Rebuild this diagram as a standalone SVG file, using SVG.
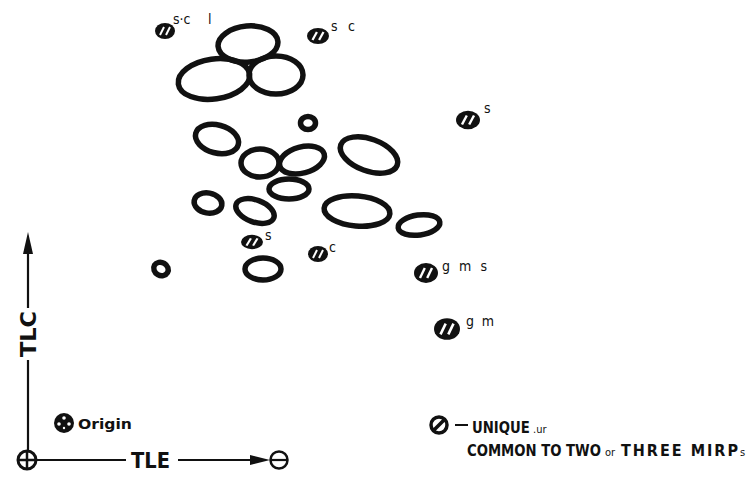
<svg xmlns="http://www.w3.org/2000/svg" xmlns:xlink="http://www.w3.org/1999/xlink" width="755" height="481" viewBox="0 0 755 481">
<style>
.ring{fill:none;stroke:#111;stroke-width:5.5}
.lbl{font-family:"DejaVu Sans Condensed","DejaVu Sans",sans-serif;font-size:14px;fill:#111}
.big{font-family:"DejaVu Sans Condensed","DejaVu Sans",sans-serif;font-weight:bold;fill:#111}
.sm{font-family:"DejaVu Sans Condensed","DejaVu Sans",sans-serif;font-size:11px;fill:#111}
.ax{stroke:#111;stroke-width:2.2;fill:none}
</style>
<defs>
<g id="hatch">
<ellipse cx="0" cy="0" rx="10" ry="8" fill="#111"/>
<line x1="-5" y1="4" x2="-1" y2="-4" stroke="#fff" stroke-width="2"/>
<line x1="1" y1="4" x2="5" y2="-4" stroke="#fff" stroke-width="2"/>
</g>
</defs>
<rect width="755" height="481" fill="#fff"/>

<g id="connectors">
<line class="ax" x1="28" y1="450" x2="28" y2="360"/>
<line class="ax" x1="28" y1="308" x2="28" y2="250"/>
<path d="M28,232 L33,254 L23,254 Z" fill="#111"/>
<line class="ax" x1="37" y1="460" x2="126" y2="460"/>
<line class="ax" x1="178" y1="460" x2="256" y2="460"/>
<path d="M270,460 L250,455 L250,465 Z" fill="#111"/>
</g>

<g id="axis-labels">
<text class="big" transform="translate(36,334) rotate(-90)" font-size="22" text-anchor="middle" textLength="46" lengthAdjust="spacingAndGlyphs">TLC</text>
<text class="big" x="131" y="468" font-size="22" textLength="39" lengthAdjust="spacingAndGlyphs">TLE</text>
</g>

<g id="origin">
<circle cx="27" cy="460" r="9" fill="none" stroke="#111" stroke-width="3"/>
<line x1="18" y1="460" x2="36" y2="460" stroke="#111" stroke-width="2.5"/>
<line x1="27" y1="451" x2="27" y2="469" stroke="#111" stroke-width="2.5"/>
</g>
<g id="tle-end">
<circle cx="279" cy="460" r="8.5" fill="none" stroke="#111" stroke-width="2.5"/>
<line x1="270" y1="460" x2="288" y2="460" stroke="#111" stroke-width="2.2"/>
</g>

<g id="origin-legend">
<circle cx="64" cy="423" r="10" fill="#111"/>
<circle cx="64" cy="418" r="1.8" fill="#fff"/>
<circle cx="59" cy="424" r="1.8" fill="#fff"/>
<circle cx="69" cy="424" r="1.8" fill="#fff"/>
<circle cx="64" cy="428" r="1.2" fill="#fff"/>
<text class="big" x="78" y="429" font-size="14" textLength="54" lengthAdjust="spacingAndGlyphs">Origin</text>
</g>

<g id="mirp-legend">
<circle cx="439" cy="425" r="8" fill="none" stroke="#111" stroke-width="3.5"/>
<line x1="433" y1="431" x2="445" y2="419" stroke="#111" stroke-width="3.5"/>
<line x1="455" y1="425" x2="468" y2="425" stroke="#111" stroke-width="2"/>
<text class="big" transform="translate(472,433) scale(0.92,1)" font-size="16">UNIQUE</text>
<text class="sm" x="533" y="433">.ur</text>
<text class="big" transform="translate(467,456) scale(0.92,1)" font-size="16">COMMON TO TWO</text>
<text class="sm" x="605" y="456">or</text>
<text class="big" x="621" y="456" font-size="16" letter-spacing="2">THREE MIRP</text>
<text class="sm" x="740" y="456" font-size="12">s</text>
</g>

<g id="ring-top"><ellipse class="ring" cx="248" cy="44" rx="30" ry="18" transform="rotate(-5 248 44)" stroke-width="6"/></g>
<g id="ring-top-left"><ellipse class="ring" cx="214" cy="79" rx="36" ry="20" transform="rotate(-8 214 79)" stroke-width="6"/></g>
<g id="ring-top-right"><ellipse class="ring" cx="276" cy="75" rx="27" ry="19" stroke-width="6"/></g>
<g id="ring-small"><ellipse class="ring" cx="308" cy="123" rx="7.5" ry="6.5" stroke-width="4"/></g>
<g id="ring-mid-left"><ellipse class="ring" cx="217" cy="139" rx="22" ry="14" transform="rotate(15 217 139)"/></g>
<g id="ring-c1"><ellipse class="ring" cx="260" cy="163" rx="19" ry="14"/></g>
<g id="ring-c2"><ellipse class="ring" cx="302" cy="160" rx="23" ry="13" transform="rotate(-15 302 160)"/></g>
<g id="ring-c3"><ellipse class="ring" cx="289" cy="189" rx="20" ry="10"/></g>
<g id="ring-mid-right"><ellipse class="ring" cx="369" cy="155" rx="30" ry="16" transform="rotate(20 369 155)"/></g>
<g id="ring-l1"><ellipse class="ring" cx="208" cy="203" rx="14" ry="10" transform="rotate(10 208 203)"/></g>
<g id="ring-l2"><ellipse class="ring" cx="255" cy="211" rx="20" ry="11" transform="rotate(20 255 211)"/></g>
<g id="ring-l3"><ellipse class="ring" cx="357" cy="211" rx="33" ry="15" transform="rotate(5 357 211)"/></g>
<g id="ring-l4"><ellipse class="ring" cx="419" cy="225" rx="21" ry="10" transform="rotate(-8 419 225)"/></g>
<g id="ring-bl"><ellipse class="ring" cx="161" cy="269" rx="7.5" ry="6.5" transform="rotate(30 161 269)" stroke-width="6"/></g>
<g id="ring-b"><ellipse class="ring" cx="263" cy="269" rx="18" ry="11" stroke-width="6"/></g>

<g id="spot-scl"><use xlink:href="#hatch" transform="translate(165,31)"/><text class="lbl" x="173" y="24">s·c</text><text class="lbl" x="208" y="24">l</text></g>
<g id="spot-sc"><use xlink:href="#hatch" transform="translate(318,36) scale(1.1,1)"/><text class="lbl" x="331" y="31" textLength="24">s c</text></g>
<g id="spot-s1"><use xlink:href="#hatch" transform="translate(468,120) scale(1.2,1.15)"/><text class="lbl" x="484" y="113">s</text></g>
<g id="spot-s2"><use xlink:href="#hatch" transform="translate(252,242) scale(1.1,0.9)"/><text class="lbl" x="265" y="240">s</text></g>
<g id="spot-c"><use xlink:href="#hatch" transform="translate(318,254) scale(1,1)"/><text class="lbl" x="329" y="252">c</text></g>
<g id="spot-gms"><use xlink:href="#hatch" transform="translate(426,273) scale(1.2,1.25)"/><text class="lbl" x="442" y="271" textLength="45">g m s</text></g>
<g id="spot-gm"><use xlink:href="#hatch" transform="translate(447,329) scale(1.3,1.35)"/><text class="lbl" x="466" y="326" textLength="28">g m</text></g>
</svg>
